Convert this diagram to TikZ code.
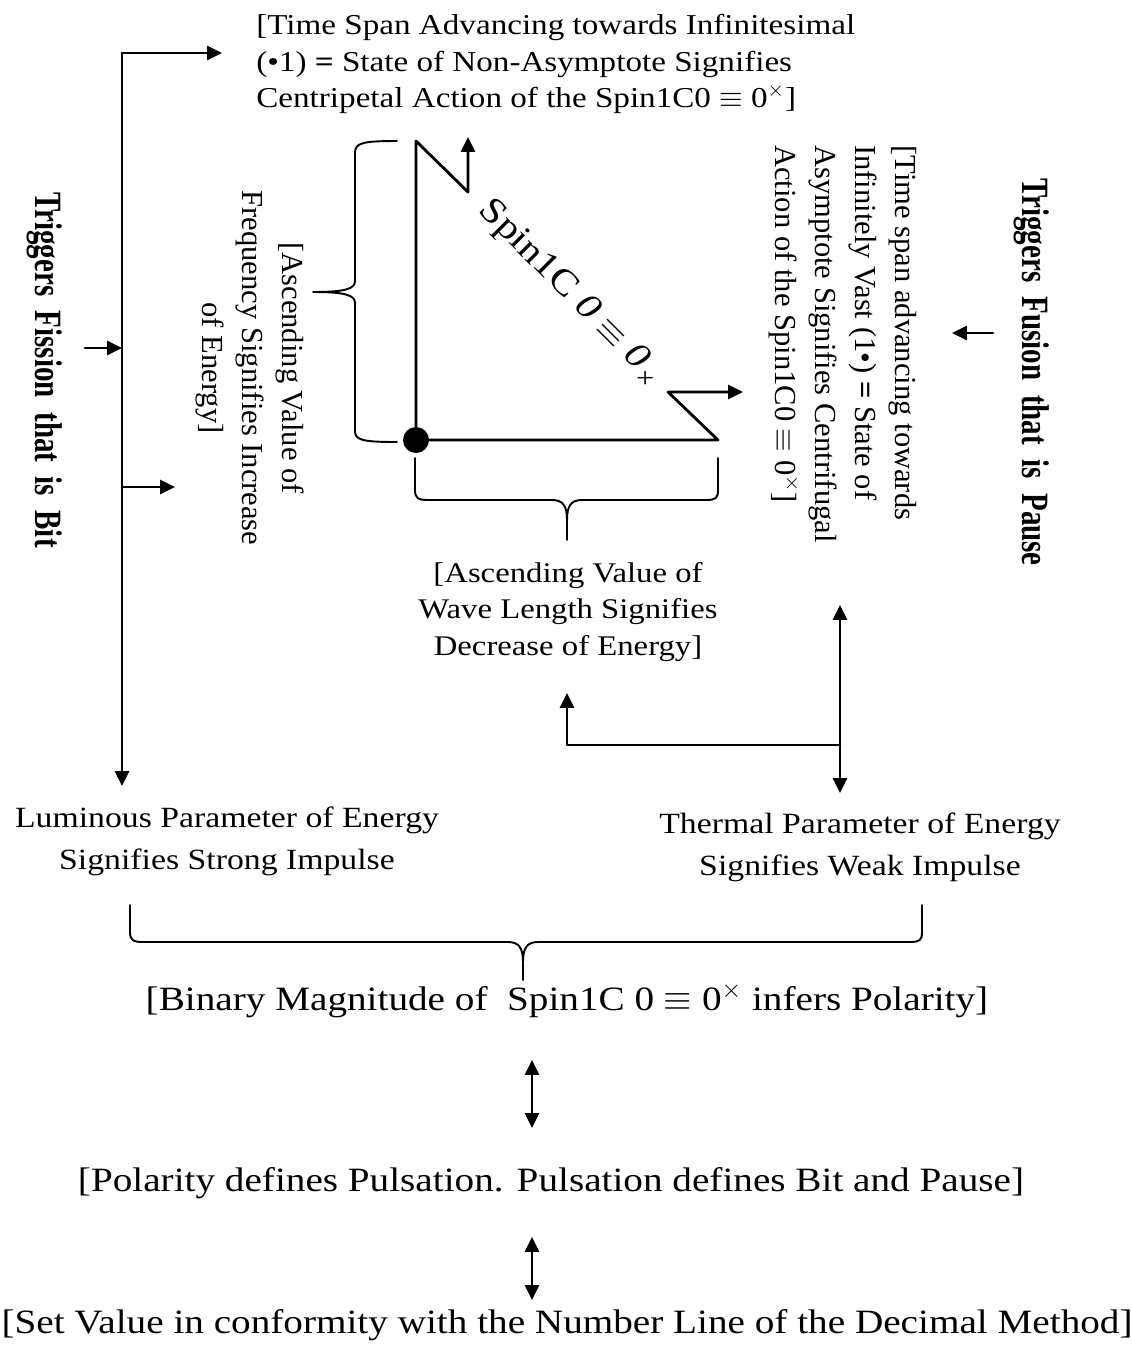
\documentclass[tikz,border=0pt]{standalone}
\usepackage{fontspec}
\setmainfont{Liberation Serif}
\newfontfamily\wideserif{Liberation Serif}[FakeStretch=1.15]
\newfontfamily\condbold{Liberation Serif}[FakeStretch=0.75]
\usetikzlibrary{arrows.meta}

\begin{document}
\begin{tikzpicture}[line cap=round,line join=round,>={Triangle[length=8.5pt,width=8pt]},x=0.02cm,y=-0.02cm,
    axis/.style={line width=1.6pt},
    curly/.style={line width=1.1pt},
    label/.style={inner sep=0pt, align=center, font=\wideserif\fontsize{16.2}{21}\selectfont},
    sidetext/.style={inner sep=0pt, rotate=-90, font=\fontsize{17.4}{22.8}\selectfont},
    trigger/.style={inner sep=0pt, rotate=-90, font=\condbold\bfseries\fontsize{22}{26}\selectfont},
    statement/.style={inner sep=0pt, font=\wideserif\fontsize{19.4}{24}\selectfont}]
                        \useasboundingbox (0,0) rectangle (1132,1353);

                        \node[label, align=left, anchor=west, font=\wideserif\fontsize{16.4}{21}\selectfont] (centripetal) at (256,64) {[Time Span Advancing towards Infinitesimal\\(•1) \textbf{=} State of Non-Asymptote Signifies\\Centripetal Action of the Spin1C0 $\equiv$ 0\textsuperscript{$\times$}]};
                        \node[sidetext, align=center] (frequency) at (250,368) {[Ascending Value of\\Frequency Signifies Increase\\of Energy]};
                        \node[sidetext, align=left] (centrifugal) at (843,344) {[Time span advancing towards\\Infinitely Vast (1•) \textbf{=} State of\\Asymptote Signifies Centrifugal\\Action of the Spin1C0 $\equiv$ 0\textsuperscript{$\times$}]};
                        \node[trigger] (fission) at (45,370) {Triggers\ \ Fission\ \ that\ \ is\ \ Bit};
                        \node[trigger] (fusion) at (1032,372) {Triggers\ \ Fusion\ \ that\ \ is\ \ Pause};
                        \node[inner sep=0pt, rotate=-45, font=\wideserif\fontsize{20.5}{24}\selectfont] (spin) at (570,296) {Spin1C \textit{0} $\equiv$ \textit{0}\raisebox{-0.5ex}{\rotatebox[origin=c]{45}{\fontsize{16}{16}\selectfont +}}};
                        \node[label] (wavelength) at (568,612) {[Ascending Value of\\Wave Length Signifies\\Decrease of Energy]};
                        \node[label, font=\wideserif\fontsize{16.7}{24}\selectfont] (luminous) at (227,841) {Luminous Parameter of Energy\\Signifies Strong Impulse};
                        \node[label, font=\wideserif\fontsize{16.7}{24}\selectfont] (thermal) at (860,847) {Thermal Parameter of Energy\\Signifies Weak Impulse};
                        \node[statement] (binary) at (567,1000) {[Binary Magnitude of\ \ Spin1C 0 $\equiv$ 0\textsuperscript{$\times$} infers Polarity]};
                        \node[statement] (pulsation) at (551,1183) {[Polarity defines Pulsation. Pulsation defines Bit and Pause]};
                        \node[statement] (setvalue) at (567,1325) {[Set Value in conformity with the Number Line of the Decimal Method]};

                        % spin axes
                        \node[circle, fill, inner sep=0pt, minimum size=0.52cm] (origin) at (416,440) {};
                        \coordinate (ytop) at (416,141);
                        \coordinate (yzig) at (468,192);
                        \coordinate (yarrow) at (468,137);
                        \coordinate (xend) at (718,440);
                        \coordinate (xzig) at (668,392);
                        \coordinate (xarrow) at (743,392);
                        \draw[axis,->] (origin.center) -- (ytop) -- (yzig) -- (yarrow);
                        \draw[axis,->] (origin.center) -- (xend) -- (xzig) -- (xarrow);

                        % braces
                        \draw[curly] (397,141) .. controls (362,141) and (355,143) .. (355,153) -- (355,281) .. controls (355,289) and (345,292) .. (313,292) .. controls (345,292) and (355,295) .. (355,303) -- (355,431) .. controls (355,440) and (362,442) .. (397,442);
                        \draw[curly] (415,458) -- (415,490) .. controls (415,498) and (418,500) .. (428,500) -- (552,500) .. controls (563,500) and (567,506) .. (567,520) -- (567,540)
                                     (567,520) .. controls (567,506) and (571,500) .. (582,500) -- (706,500) .. controls (716,500) and (718,498) .. (718,490) -- (718,458);
                        \draw[curly] (130,905) -- (130,932) .. controls (130,940) and (133,942) .. (143,942) -- (508,942) .. controls (519,942) and (523,948) .. (523,962) -- (523,980)
                                     (523,962) .. controls (523,948) and (527,942) .. (538,942) -- (910,942) .. controls (920,942) and (922,940) .. (922,932) -- (922,905);

                        % bit side
                        \coordinate (bittop) at (122,53);
                        \coordinate (bitarrow) at (222,53);
                        \coordinate (bitend) at (122,786);
                        \coordinate (bitfrom) at (85,348);
                        \coordinate (bitjoin) at (122,348);
                        \coordinate (bitbranch) at (122,487);
                        \coordinate (bitbranchend) at (175,487);
                        \draw[axis,->] (bittop) -- (bitarrow);
                        \draw[axis,->] (bittop) -- (bitend);
                        \draw[axis,->] (bitfrom) -- (bitjoin);
                        \draw[axis,->] (bitbranch) -- (bitbranchend);

                        % pause side
                        \coordinate (pauseup) at (840,605);
                        \coordinate (pausedown) at (840,793);
                        \coordinate (pausejoin) at (840,745);
                        \coordinate (wavecorner) at (567,745);
                        \coordinate (wavetip) at (567,693);
                        \coordinate (pausefrom) at (993,333);
                        \coordinate (pauseto) at (952,333);
                        \draw[axis,<->] (pauseup) -- (pausedown);
                        \draw[axis,->] (pausejoin) -- (wavecorner) -- (wavetip);
                        \draw[axis,->] (pausefrom) -- (pauseto);

                        % polarity chain
                        \coordinate (polA) at (532,1060);
                        \coordinate (polB) at (532,1128);
                        \coordinate (polC) at (532,1237);
                        \coordinate (polD) at (532,1300);
                        \draw[axis,<->] (polA) -- (polB);
                        \draw[axis,<->] (polC) -- (polD);
                    \end{tikzpicture}
\end{document}
